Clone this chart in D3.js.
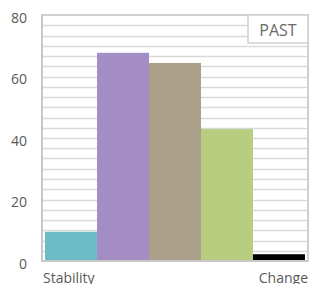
<!DOCTYPE html>
<html lang="en">
<head>
    <meta charset="UTF-8">
    <title>Past</title>
    <style>
        body { margin: 0; background: #fff; }
        text { font-family: "Open Sans", sans-serif; fill: #595959; }
        .grid line { stroke: #d9d9d9; stroke-width: 1.5px; }
    </style>
</head>
<body>
    <svg width="309" height="284"></svg>
    <script src="https://d3js.org/d3.v7.min.js"></script>
    <script>
        // chart data
        const categories = ["s1", "s2", "s3", "s4", "s5"];
        const values = [9.5, 67.7, 64.4, 42.9, 2.2];
        const colors = ["#6BBCC6", "#A48CC4", "#ABA18A", "#B8CD7F", "#000000"];
        const yTicks = [0, 20, 40, 60, 80];
        const endLabels = ["Stability", "Change"];
        const legendLabel = "PAST";

        const plot = { left: 42, right: 308, top: 15, bottom: 261 };

        const svg = d3.select("svg");

        const x = d3.scaleBand()
            .domain(categories)
            .range([plot.left, plot.right])
            .paddingInner(0)
            .paddingOuter(0.058);

        const y = d3.scaleLinear()
            .domain([0, 80])
            .range([plot.bottom, plot.top]);

        // minor gridlines (24 divisions)
        svg.append("g")
            .attr("class", "grid")
            .selectAll("line")
            .data(d3.range(1, 24).map(i => i * 80 / 24))
            .join("line")
            .attr("x1", plot.left)
            .attr("x2", plot.right)
            .attr("y1", d => Math.round(y(d)) + 0.5)
            .attr("y2", d => Math.round(y(d)) + 0.5);

        // bars
        svg.append("g")
            .selectAll("rect")
            .data(values)
            .join("rect")
            .attr("x", (d, i) => x(categories[i]))
            .attr("width", x.bandwidth())
            .attr("y", d => y(d))
            .attr("height", d => y(0) - y(d))
            .attr("fill", (d, i) => colors[i]);

        // plot frame
        svg.append("rect")
            .attr("x", plot.left)
            .attr("y", plot.top)
            .attr("width", plot.right - plot.left)
            .attr("height", plot.bottom - plot.top)
            .attr("fill", "none")
            .attr("stroke", "#d0d0d0")
            .attr("stroke-width", 2);

        svg.append("line")
            .attr("x1", plot.left - 1).attr("x2", plot.right)
            .attr("y1", plot.bottom).attr("y2", plot.bottom)
            .attr("stroke", "#c8c8c8")
            .attr("stroke-width", 2);

        svg.append("line")
            .attr("x1", plot.left).attr("x2", plot.left)
            .attr("y1", plot.top).attr("y2", plot.bottom)
            .attr("stroke", "#c8c8c8")
            .attr("stroke-width", 2);

        // y axis labels
        svg.append("g")
            .selectAll("text")
            .data(yTicks)
            .join("text")
            .attr("x", 27)
            .attr("y", d => y(d) + 3)
            .attr("dy", "0.35em")
            .attr("text-anchor", "end")
            .style("font-size", "14px")
            .text(d => d);

        // end labels on x axis
        svg.append("text")
            .attr("x", plot.left + 1)
            .attr("y", 283)
            .style("font-size", "14px")
            .text(endLabels[0]);

        svg.append("text")
            .attr("x", plot.right)
            .attr("y", 283)
            .attr("text-anchor", "end")
            .style("font-size", "14px")
            .text(endLabels[1]);

        // legend box
        svg.append("rect")
            .attr("x", 248)
            .attr("y", plot.top)
            .attr("width", plot.right - 248)
            .attr("height", 28)
            .attr("fill", "#fff")
            .attr("stroke", "#d0d0d0")
            .attr("stroke-width", 1.5);

        svg.append("text")
            .attr("x", 278)
            .attr("y", 36)
            .attr("text-anchor", "middle")
            .style("font-size", "16px")
            .style("fill", "#6b6b6b")
            .text(legendLabel);
    </script>
</body>
</html>
